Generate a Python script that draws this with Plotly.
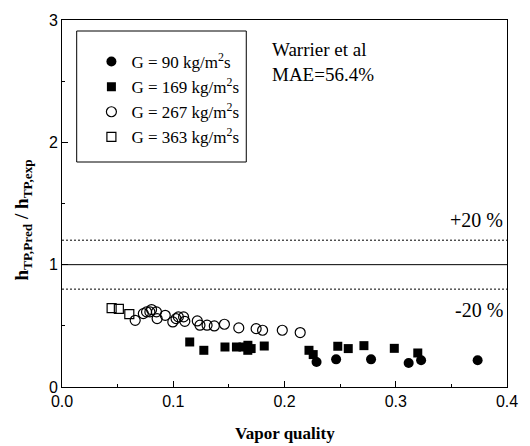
import plotly.graph_objects as go

# G = 90 kg/m2s (filled circles)
x_g90 = [0.2288, 0.2464, 0.2778, 0.3116, 0.3228, 0.3736]
y_g90 = [0.205, 0.226, 0.226, 0.196, 0.218, 0.218]

# G = 169 kg/m2s (filled squares)
x_g169 = [0.1148, 0.1275, 0.1465, 0.1568, 0.1627, 0.1671, 0.1700, 0.1670, 0.1818,
          0.2220, 0.2258, 0.2479, 0.2573, 0.2714, 0.2987, 0.3198]
y_g169 = [0.368, 0.300, 0.327, 0.327, 0.327, 0.341, 0.314, 0.300, 0.335,
          0.300, 0.265, 0.333, 0.314, 0.338, 0.316, 0.278]

# G = 267 kg/m2s (open circles)
x_g267 = [0.0658, 0.0731, 0.0760, 0.0805, 0.0790, 0.0849, 0.0855, 0.0928, 0.0996,
          0.1025, 0.1046, 0.1093, 0.1104, 0.1216, 0.1240, 0.1304, 0.1369, 0.1460,
          0.1589, 0.1745, 0.1803, 0.1980, 0.2141]
y_g267 = [0.545, 0.600, 0.614, 0.633, 0.614, 0.614, 0.559, 0.586, 0.532,
          0.559, 0.573, 0.573, 0.537, 0.540, 0.505, 0.505, 0.499, 0.513,
          0.483, 0.477, 0.464, 0.464, 0.445]

# G = 363 kg/m2s (open squares)
x_g363 = [0.0446, 0.0511, 0.0605]
y_g363 = [0.644, 0.638, 0.595]

ref_levels = [1.0, 1.2, 0.8]
x_ticks = [0.0, 0.1, 0.2, 0.3, 0.4]
y_ticks = [0, 1, 2, 3]

serif = "Liberation Serif, Times New Roman, serif"
sans = "Liberation Sans, Arial, sans-serif"

fig = go.Figure()
fig.add_trace(go.Scatter(x=x_g90, y=y_g90, mode="markers", name="G = 90 kg/m<sup>2</sup>s",
                         marker=dict(symbol="circle", size=10, color="black")))
fig.add_trace(go.Scatter(x=x_g169, y=y_g169, mode="markers", name="G = 169 kg/m<sup>2</sup>s",
                         marker=dict(symbol="square", size=9, color="black")))
fig.add_trace(go.Scatter(x=x_g267, y=y_g267, mode="markers", name="G = 267 kg/m<sup>2</sup>s",
                         marker=dict(symbol="circle-open", size=10, color="black", line=dict(width=1.2))))
fig.add_trace(go.Scatter(x=x_g363, y=y_g363, mode="markers", name="G = 363 kg/m<sup>2</sup>s",
                         marker=dict(symbol="square-open", size=9, color="black", line=dict(width=1.2))))

# reference lines
fig.add_hline(y=ref_levels[0], line=dict(color="black", width=1))
fig.add_hline(y=ref_levels[1], line=dict(color="black", width=1, dash="2px,2px"))
fig.add_hline(y=ref_levels[2], line=dict(color="black", width=1, dash="2px,2px"))

fig.add_annotation(x=0.398, y=1.365, text="+20 %", showarrow=False, xanchor="right",
                   font=dict(family=serif, size=20, color="black"))
fig.add_annotation(x=0.398, y=0.63, text="-20 %", showarrow=False, xanchor="right",
                   font=dict(family=serif, size=20, color="black"))
fig.add_annotation(x=0.187, y=2.66, text="Warrier et al<br>MAE=56.4%", showarrow=False,
                   xanchor="left", align="left",
                   font=dict(family=serif, size=19, color="black"))

# axis titles
fig.add_annotation(xref="paper", yref="paper", x=0.5, y=-0.128, text="<b>Vapor quality</b>",
                   xanchor="center", yanchor="middle",
                   showarrow=False, font=dict(family=serif, size=17, color="black"))
fig.add_annotation(xref="paper", yref="paper", x=-0.088, y=0.456, textangle=-90,
                   xanchor="center", yanchor="middle",
                   text="<b>h<sub>TP,Pred</sub> / h<sub>TP,exp</sub></b>",
                   showarrow=False, font=dict(family=serif, size=19, color="black"))

# legend frame
fig.add_shape(type="rect", xref="paper", yref="paper",
              x0=(77 - 62) / 454, x1=(250 - 62) / 454,
              y0=(387 - 162) / 367, y1=(387 - 31) / 367,
              line=dict(color="black", width=1), fillcolor="rgba(0,0,0,0)")

fig.update_layout(
    width=530, height=446,
    margin=dict(l=62, r=14, t=20, b=59),
    plot_bgcolor="white", paper_bgcolor="white",
    showlegend=True,
    legend=dict(x=(92 - 62) / 454, y=(387 - 44) / 367, xanchor="left", yanchor="top",
                borderwidth=0, bgcolor="rgba(0,0,0,0)",
                font=dict(family=serif, size=17, color="black"),
                tracegroupgap=0),
    font=dict(family=sans, color="black"),
)
fig.update_xaxes(range=[0, 0.4], tickvals=x_ticks, ticktext=["0.0", "0.1", "0.2", "0.3", "0.4"],
                 ticks="inside", ticklen=6, tickcolor="black",
                 minor=dict(tickvals=[0.05, 0.15, 0.25, 0.35], ticks="inside", ticklen=3, tickcolor="black"),
                 showline=True, linecolor="black", linewidth=1, mirror=True, showgrid=False, zeroline=False,
                 tickfont=dict(family=sans, size=16))
fig.update_yaxes(range=[0, 3], tickvals=y_ticks,
                 ticks="inside", ticklen=6, tickcolor="black",
                 minor=dict(tickvals=[0.5, 1.5, 2.5], ticks="inside", ticklen=3, tickcolor="black"),
                 showline=True, linecolor="black", linewidth=1, mirror=True, showgrid=False, zeroline=False,
                 tickfont=dict(family=sans, size=16))

fig.write_html("out.html")
